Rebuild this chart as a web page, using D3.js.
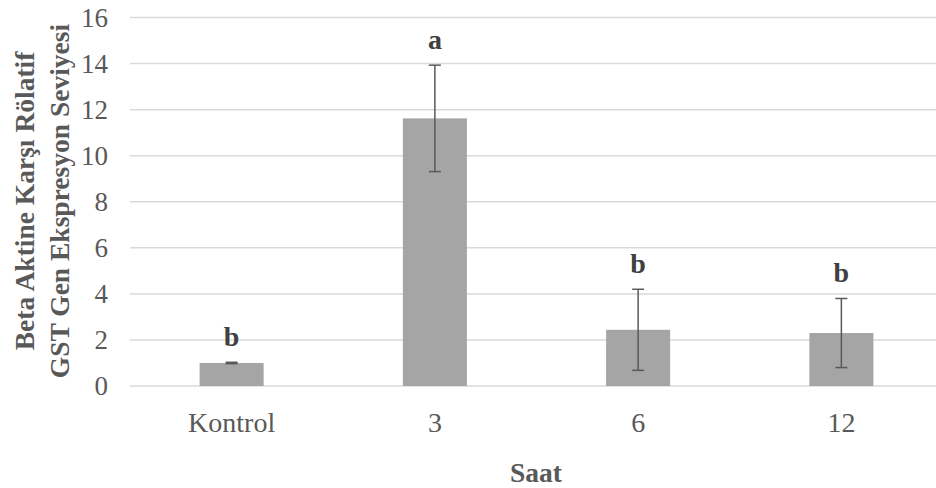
<html>
<head>
<script src="https://d3js.org/d3.v7.min.js"></script>
<style>
  body { margin: 0; background: #fff; }
  svg text { font-family: 'Liberation Serif', 'Tinos', 'DejaVu Serif', serif; }
</style>
</head>
<body>
<svg id="chart" width="936" height="488"></svg>
<script>
var categories = ["Kontrol", "3", "6", "12"];
var values = [1.0, 11.62, 2.44, 2.3];
var errors = [0.03, 2.31, 1.76, 1.5];
var letters = ["b", "a", "b", "b"];
var yTicks = [0, 2, 4, 6, 8, 10, 12, 14, 16];

var svg = d3.select("#chart");

var x = d3.scaleBand()
    .domain(categories)
    .range([130, 943])
    .paddingInner(0.685)
    .paddingOuter(0.3425);

var y = d3.scaleLinear()
    .domain([0, 16])
    .range([386, 17.5]);

// gridlines
svg.selectAll(".grid")
  .data(yTicks)
  .enter()
  .append("line")
    .attr("x1", 130)
    .attr("x2", 936)
    .attr("y1", function(d){ return y(d); })
    .attr("y2", function(d){ return y(d); })
    .style("stroke", "#d9d9d9")
    .style("stroke-width", 1.5);

// y tick labels
svg.selectAll(".ylab")
  .data(yTicks)
  .enter()
  .append("text")
    .attr("x", 108)
    .attr("y", function(d){ return y(d); })
    .attr("dy", "0.35em")
    .attr("text-anchor", "end")
    .style("font-size", "27px")
    .style("fill", "#595959")
    .text(function(d){ return d; });

// bars
svg.selectAll(".bar")
  .data(values)
  .enter()
  .append("rect")
    .attr("x", function(d, i){ return x(categories[i]); })
    .attr("width", x.bandwidth())
    .attr("y", function(d){ return y(d); })
    .attr("height", function(d){ return y(0) - y(d); })
    .style("fill", "#a5a5a5");

// error bars
var eb = svg.selectAll(".err")
  .data(values)
  .enter()
  .append("g")
    .attr("transform", function(d, i){ return "translate(" + (x(categories[i]) + x.bandwidth() / 2) + ",0)"; });

eb.append("line")
    .attr("y1", function(d, i){ return y(d - errors[i]); })
    .attr("y2", function(d, i){ return y(d + errors[i]); })
    .style("stroke", "#595959")
    .style("stroke-width", 1.5);

eb.append("line")
    .attr("x1", -6).attr("x2", 6)
    .attr("y1", function(d, i){ return y(d + errors[i]); })
    .attr("y2", function(d, i){ return y(d + errors[i]); })
    .style("stroke", "#595959")
    .style("stroke-width", 1.5);

eb.append("line")
    .attr("x1", -6).attr("x2", 6)
    .attr("y1", function(d, i){ return y(d - errors[i]); })
    .attr("y2", function(d, i){ return y(d - errors[i]); })
    .style("stroke", "#595959")
    .style("stroke-width", 1.5);

// significance letters
eb.append("text")
    .attr("y", function(d, i){ return y(d + errors[i]) - 16; })
    .attr("text-anchor", "middle")
    .style("font-size", "28px")
    .style("font-weight", "bold")
    .style("fill", "#404040")
    .text(function(d, i){ return letters[i]; });

// x tick labels
svg.selectAll(".xlab")
  .data(categories)
  .enter()
  .append("text")
    .attr("x", function(d){ return x(d) + x.bandwidth() / 2; })
    .attr("y", 432)
    .attr("text-anchor", "middle")
    .style("font-size", "28px")
    .style("fill", "#595959")
    .text(function(d){ return d; });

// axis titles
svg.append("text")
    .attr("x", 536)
    .attr("y", 482)
    .attr("text-anchor", "middle")
    .style("font-size", "27.5px")
    .style("font-weight", "bold")
    .style("fill", "#595959")
    .text("Saat");

var yt = svg.append("text")
    .attr("transform", "translate(0,201) rotate(-90)")
    .attr("text-anchor", "middle")
    .style("font-size", "27.5px")
    .style("font-weight", "bold")
    .style("fill", "#595959");
yt.append("tspan").attr("x", 0).attr("y", 33.5).text("Beta Aktine Karşı Rölatif");
yt.append("tspan").attr("x", 0).attr("y", 68.5).text("GST Gen Ekspresyon Seviyesi");
</script>
</body>
</html>
